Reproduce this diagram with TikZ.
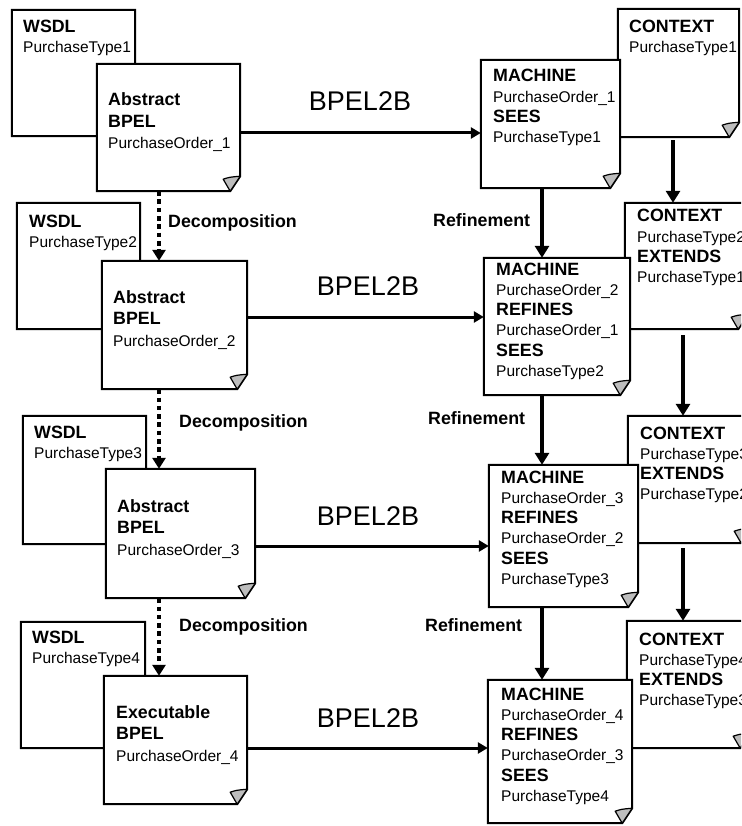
\documentclass[tikz,border=0pt]{standalone}
\usepackage{fontspec}
\setmainfont{Liberation Sans}
\usetikzlibrary{fit,arrows.meta}
\definecolor{flapgray}{HTML}{BDBDBD}
\newcommand{\kw}[1]{{\fontsize{17.8}{20.3}\selectfont\bfseries #1}}
% name, x1, y1, x2, y2
\newcommand{\docbox}[5]{%
  \path (#2,#3) coordinate (#1-nw) (#4,#5) coordinate (#1-se);
  \node[fit=(#1-nw)(#1-se), inner sep=0pt] (#1) {};
  \draw[boxline, fill=white] (#1.north west) -- (#1.north east) -- ([yshift=15pt]#1.south east) -- ([xshift=-10pt]#1.south east) -- (#1.south west) -- cycle;
  \draw[flapline, fill=flapgray] ([xshift=-10pt]#1.south east) -- ([yshift=15pt]#1.south east) .. controls ([xshift=-11pt,yshift=14pt]#1.south east) .. ([xshift=-17pt,yshift=12pt]#1.south east) -- cycle;
}
\tikzset{
  boxline/.style={draw=black, line width=2pt, line join=miter},
  flapline/.style={draw=black, line width=1.2pt, line join=round},
  txt/.style={anchor=base west, inner sep=0pt, text width=140pt, align=left, font=\fontsize{15.5}{20.3}\selectfont},
  txtb/.style={txt, font=\fontsize{15.5}{21.5}\selectfont},
  txtw/.style={txt, font=\fontsize{15.5}{20}\selectfont},
  bpellabel/.style={anchor=base, inner sep=0pt, font=\fontsize{27}{30}\selectfont},
  arrlabel/.style={anchor=base west, inner sep=0pt, font=\fontsize{17.8}{20}\selectfont\bfseries},
  bpelarrow/.style={line width=3pt, -{Triangle[width=11pt,length=10pt]}},
  refarrow/.style={line width=4pt, -{Triangle[width=14pt,length=12pt]}},
  decomp/.style={line width=4.5pt, dash pattern=on 4.5pt off 3.8pt, -{Triangle[width=13pt,length=11pt]}},
}
\begin{document}
\begin{tikzpicture}[x=1pt,y=-1pt]
\useasboundingbox (0,0) rectangle (741,826);
\fill[white] (0,0) rectangle (741,826);
\clip (0,0) rectangle (741,826);

% ---------- Row 1 ----------
\docbox{w1}{12}{10}{135}{136}
\node[txtw] (tw1) at (23,33) {\kw{WSDL}\\PurchaseType1};
\docbox{b1}{97}{64}{240}{191}
\node[txtb] (tb1) at (108,106) {\kw{Abstract}\\\kw{BPEL}\\PurchaseOrder\_1};
\docbox{c1}{618}{9}{739}{137}
\node[txtw] (tc1) at (629,33) {\kw{CONTEXT}\\PurchaseType1};
\docbox{m1}{481}{60}{620}{188}
\node[txt] (tm1) at (493,82) {\kw{MACHINE}\\PurchaseOrder\_1\\\kw{SEES}\\PurchaseType1};

% ---------- Row 2 ----------
\docbox{w2}{17}{203}{140}{329}
\node[txtw] (tw2) at (29,227) {\kw{WSDL}\\PurchaseType2};
\docbox{b2}{102}{261}{247}{389}
\node[txtb] (tb2) at (113,303) {\kw{Abstract}\\\kw{BPEL}\\PurchaseOrder\_2};
\docbox{c2}{625}{203}{748}{329}
\node[txt] (tc2) at (637,222) {\kw{CONTEXT}\\PurchaseType2\\\kw{EXTENDS}\\PurchaseType1};
\docbox{m2}{484}{258}{630}{395}
\node[txt] (tm2) at (496,275) {\kw{MACHINE}\\PurchaseOrder\_2\\\kw{REFINES}\\PurchaseOrder\_1\\\kw{SEES}\\PurchaseType2};

% ---------- Row 3 ----------
\docbox{w3}{23}{416}{146}{544}
\node[txtw] (tw3) at (34,438) {\kw{WSDL}\\PurchaseType3};
\docbox{b3}{106}{469}{255}{598}
\node[txtb] (tb3) at (117,512) {\kw{Abstract}\\\kw{BPEL}\\PurchaseOrder\_3};
\docbox{c3}{628}{416}{751}{543}
\node[txt] (tc3) at (640,439) {\kw{CONTEXT}\\PurchaseType3\\\kw{EXTENDS}\\PurchaseType2};
\docbox{m3}{489}{465}{638}{607}
\node[txt] (tm3) at (501,483) {\kw{MACHINE}\\PurchaseOrder\_3\\\kw{REFINES}\\PurchaseOrder\_2\\\kw{SEES}\\PurchaseType3};

% ---------- Row 4 ----------
\docbox{w4}{21}{622}{145}{748}
\node[txtw] (tw4) at (32,643) {\kw{WSDL}\\PurchaseType4};
\docbox{b4}{104}{676}{247}{804}
\node[txtb] (tb4) at (116,718) {\kw{Executable}\\\kw{BPEL}\\PurchaseOrder\_4};
\docbox{c4}{627}{621}{750}{748}
\node[txt] (tc4) at (639,645) {\kw{CONTEXT}\\PurchaseType4\\\kw{EXTENDS}\\PurchaseType3};
\docbox{m4}{488}{680}{632}{823}
\node[txt] (tm4) at (501,700) {\kw{MACHINE}\\PurchaseOrder\_4\\\kw{REFINES}\\PurchaseOrder\_3\\\kw{SEES}\\PurchaseType4};

% ---------- helper coordinates ----------
\coordinate (y1) at (0,133);
\coordinate (y2) at (0,317);
\coordinate (y3) at (0,546);
\coordinate (y4) at (0,748);
\coordinate (dx) at (159,0);
\coordinate (rx) at (542,0);
\coordinate (cxa) at (673,0);
\coordinate (cxb) at (683,0);

% ---------- BPEL2B arrows ----------
\draw[bpelarrow] (b1.east |- y1) -- (m1.west |- y1);
\draw[bpelarrow] (b2.east |- y2) -- (m2.west |- y2);
\draw[bpelarrow] (b3.east |- y3) -- (m3.west |- y3);
\draw[bpelarrow] (b4.east |- y4) -- (m4.west |- y4);
\node[bpellabel] (l1) at (360,111) {BPEL2B};
\node[bpellabel] (l2) at (368,295) {BPEL2B};
\node[bpellabel] (l3) at (368,525) {BPEL2B};
\node[bpellabel] (l4) at (368,727) {BPEL2B};

% ---------- Decomposition ----------
\draw[decomp] (b1.south -| dx) -- (b2.north -| dx);
\draw[decomp] (b2.south -| dx) -- (b3.north -| dx);
\draw[decomp] (b3.south -| dx) -- (b4.north -| dx);
\node[arrlabel] (d1) at (168,228) {Decomposition};
\node[arrlabel] (d2) at (179,427) {Decomposition};
\node[arrlabel] (d3) at (179,631) {Decomposition};

% ---------- Refinement ----------
\draw[refarrow] (m1.south -| rx) -- (m2.north -| rx);
\draw[refarrow] (m2.south -| rx) -- (m3.north -| rx);
\draw[refarrow] (m3.south -| rx) -- (m4.north -| rx);
\node[arrlabel] (r1) at (433,226) {Refinement};
\node[arrlabel] (r2) at (428,424) {Refinement};
\node[arrlabel] (r3) at (425,631) {Refinement};

% ---------- Context arrows ----------
\draw[refarrow] ([yshift=-3pt]c1.south -| cxa) -- (c2.north -| cxa);
\draw[refarrow] ([yshift=-6pt]c2.south -| cxb) -- (c3.north -| cxb);
\draw[refarrow] ([yshift=-5pt]c3.south -| cxb) -- (c4.north -| cxb);
\end{tikzpicture}
\end{document}
